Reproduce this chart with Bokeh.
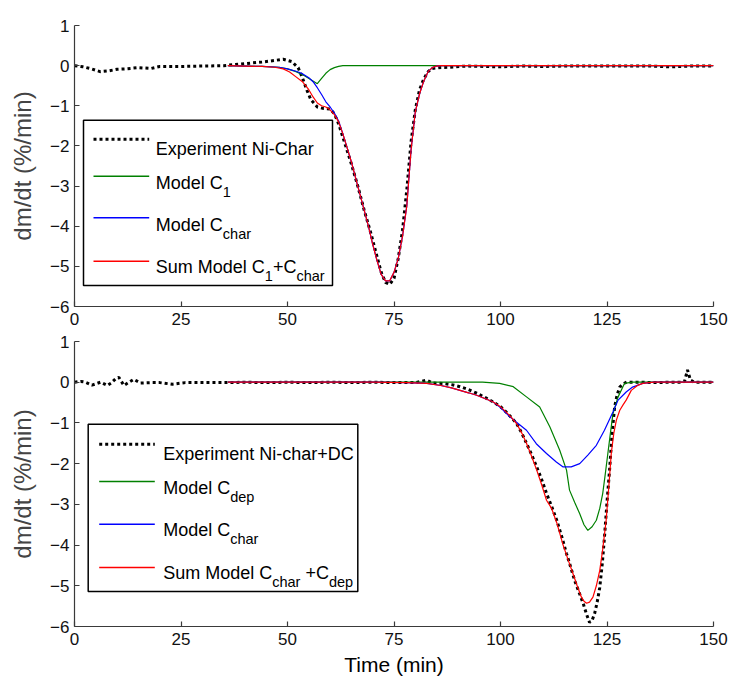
from bokeh.plotting import figure
from bokeh.models import Range1d, FixedTicker, Label, BoxAnnotation
from bokeh.layouts import column
from bokeh.embed import file_html
from bokeh.resources import INLINE

# ---------------- data ----------------
# Top panel: Ni-Char
t_exp_top = [0, 2, 4, 6, 8, 10, 12, 15, 18, 20, 25, 30, 35, 40, 44, 47, 49, 51, 52.5, 53.5,
             54.5, 55.5, 57, 58.5, 60, 61, 62, 63.5, 65, 66.5, 68, 69.5, 71, 72, 73, 74, 75, 76, 77, 78,
             79, 80, 81, 82, 83, 84, 85.5, 88, 92, 96, 100, 105, 110, 115, 120, 125, 130, 135, 140, 145, 150]
v_exp_top = [0.0, -0.03, -0.08, -0.15, -0.13, -0.09, -0.08, -0.05, -0.07, -0.02, -0.02, -0.01, 0.0, 0.05, 0.09, 0.13, 0.16, 0.1, -0.05, -0.3,
             -0.6, -0.85, -1.03, -1.07, -1.08, -1.2, -1.45, -1.95, -2.45, -3.0, -3.6, -4.15, -4.75, -5.15, -5.4, -5.45, -5.3, -4.8, -4.1, -3.1,
             -1.9, -1.1, -0.6, -0.33, -0.15, -0.07, -0.05, -0.04, -0.01, -0.02, -0.03, -0.01, -0.02, -0.01, -0.01, -0.01, -0.01, -0.01, -0.03, -0.01, -0.01]

t_c1_top = [36, 40, 44, 48, 50, 52, 54, 55.5, 57, 58, 59, 60, 61, 62, 63, 70, 80, 90, 100, 110, 120, 130, 140, 150]
v_c1_top = [0, -0.01, -0.02, -0.04, -0.08, -0.15, -0.25, -0.35, -0.45, -0.32, -0.19, -0.1, -0.05, -0.02, 0, 0, 0, 0, 0, 0, 0, 0, 0, 0]

t_char_top = [36, 40, 44, 48, 50, 52, 53.5, 55, 56, 57, 58, 59, 60, 61, 62, 63, 64, 65, 66, 67,
              68, 69, 70, 71, 72, 73, 74, 75, 76, 77, 78, 79, 80, 81, 82, 83, 84, 85, 86, 90,
              100, 110, 120, 130, 140, 150]
v_char_top = [0, -0.01, -0.02, -0.04, -0.08, -0.14, -0.2, -0.3, -0.4, -0.55, -0.72, -0.9, -1.03, -1.18, -1.38, -1.7, -2.05, -2.4, -2.8, -3.2,
              -3.6, -4.0, -4.45, -4.85, -5.2, -5.36, -5.36, -5.15, -4.8, -4.25, -3.5, -2.1, -1.15, -0.7, -0.38, -0.15, -0.05, -0.01, 0, 0,
              0, 0, 0, 0, 0, 0]

t_sum_top = [36, 40, 44, 47, 49, 50.5, 52, 53.5, 55, 56, 57, 58, 59, 60, 61, 62, 63, 64, 65, 66,
             67, 68, 69, 70, 71, 72, 73, 74, 75, 76, 77, 78, 79, 80, 81, 82, 83, 84, 85, 86,
             90, 100, 110, 120, 130, 140, 150]
v_sum_top = [0, -0.01, -0.02, -0.04, -0.08, -0.16, -0.28, -0.4, -0.6, -0.78, -0.93, -1.0, -1.03, -1.1, -1.22, -1.4, -1.7, -2.05, -2.4, -2.8,
             -3.2, -3.6, -4.0, -4.45, -4.85, -5.2, -5.36, -5.36, -5.15, -4.8, -4.25, -3.5, -2.1, -1.15, -0.7, -0.38, -0.15, -0.05, -0.01, 0,
             0, 0, 0, 0, 0, 0, 0]

# Bottom panel: Ni-char + DC
t_exp_bot = [0, 1.5, 2.6, 4.1, 5, 6.1, 7.7, 8.6, 9.6, 10.4, 11.6, 12.8, 13.9, 15.5, 18, 20, 23, 26, 30, 35,
             40, 45, 50, 55, 60, 65, 70, 75, 80, 82.7, 84, 86.5, 88.5, 90.5, 92.5, 94.4, 96.3, 98.2, 100, 101.4,
             102.6, 103.8, 105, 106.1, 107.3, 108.5, 109.7, 110.8, 112, 113.2, 114.4, 115.5, 116.5, 117.4, 118.4, 119.4, 120.2, 120.9, 121.5, 122.1,
             122.7, 123.3, 123.9, 124.4, 125, 125.6, 126.2, 126.8, 127.4, 128, 128.8, 129.6, 131, 133, 136, 140, 142.5, 143.2, 143.9, 144.6,
             145.5, 147, 150]
v_exp_bot = [0, 0.02, 0.0, -0.07, -0.04, 0.0, -0.08, -0.02, 0.08, 0.12, -0.08, 0.0, 0.07, -0.02, -0.01, -0.01, -0.05, -0.01, -0.01, -0.01,
             0.0, -0.01, 0.0, -0.01, 0.0, -0.01, 0.0, -0.01, -0.01, 0.05, -0.02, -0.03, -0.06, -0.11, -0.18, -0.27, -0.37, -0.48, -0.6, -0.74,
             -0.87, -1.02, -1.25, -1.5, -1.78, -2.08, -2.4, -2.73, -3.05, -3.39, -3.8, -4.21, -4.55, -4.87, -5.15, -5.43, -5.7, -5.9, -5.85, -5.68,
             -5.4, -5.04, -4.45, -3.81, -2.95, -2.16, -1.25, -0.6, -0.3, -0.12, -0.04, 0.0, 0.0, 0.0, -0.01, 0.0, 0.0, 0.02, 0.3, 0.05,
             0.0, 0.0, 0.0]

t_dep_bot = [36, 60, 80, 90, 95.8, 99.8, 103, 106.1, 109.2, 111.6, 113.9, 115.5, 116.2, 117.4, 118.6, 119.6, 120.5, 121.5, 122.5, 123.3,
             124, 124.6, 125.2, 125.8, 126.4, 127.6, 129.1, 131, 135, 140, 150]
v_dep_bot = [0, 0, 0, 0, 0, -0.03, -0.11, -0.36, -0.61, -1.1, -1.67, -2.16, -2.65, -2.95, -3.23, -3.5, -3.64, -3.55, -3.39, -3.1,
             -2.73, -2.25, -1.75, -1.25, -0.77, -0.36, -0.03, 0, 0, 0, 0]

t_char_bot = [36, 50, 60, 70, 78, 82.7, 86, 88.5, 90.5, 92.5, 94.4, 96.3, 98.2, 100, 102.2, 104.2, 106.1, 108.4, 110.8, 113.1,
              114.7, 116.6, 118.6, 120.5, 122.5, 124.4, 126.4, 127.6, 129.5, 131, 133.4, 136, 140, 145, 150]
v_char_bot = [0, 0, 0, 0, -0.01, -0.03, -0.08, -0.14, -0.2, -0.26, -0.32, -0.4, -0.48, -0.62, -0.85, -1.02, -1.18, -1.51, -1.75, -1.96,
              -2.08, -2.08, -2.0, -1.79, -1.55, -1.18, -0.73, -0.44, -0.24, -0.12, -0.03, 0, 0, 0, 0]

t_sum_bot = [36, 50, 60, 70, 78, 82.7, 86, 88.5, 90.5, 92.5, 94.4, 96.3, 98.2, 100, 101.4, 102.6, 103.8, 105, 106.1, 107.3,
             108.5, 109.7, 110.8, 112, 113.2, 114.7, 116, 117, 118, 119, 119.6, 120.2, 120.9, 121.7, 122.5, 123.3, 124, 124.8, 125.4, 126,
             126.6, 127.2, 128, 128.8, 129.5, 130.7, 132.3, 133.4, 136, 140, 145, 150]
v_sum_bot = [0, 0, 0, 0, -0.01, -0.03, -0.08, -0.14, -0.2, -0.26, -0.32, -0.4, -0.48, -0.6, -0.74, -0.87, -1.02, -1.25, -1.5, -1.82,
             -2.16, -2.53, -2.9, -3.1, -3.45, -4.0, -4.4, -4.7, -5.0, -5.28, -5.38, -5.43, -5.4, -5.28, -5.0, -4.62, -4.1, -3.39, -2.6, -1.75,
             -1.25, -0.93, -0.69, -0.55, -0.44, -0.2, -0.07, -0.03, 0, 0, 0, 0]

x_ticks = [0, 25, 50, 75, 100, 125, 150]
y_ticks = [1, 0, -1, -2, -3, -4, -5, -6]

# legend texts: (text, is_subscript)
top_legend = [
    [("Experiment Ni-Char", 0)],
    [("Model C", 0), ("1", 1)],
    [("Model C", 0), ("char", 1)],
    [("Sum Model C", 0), ("1", 1), ("+C", 0), ("char", 1)],
]
bot_legend = [
    [("Experiment Ni-char+DC", 0)],
    [("Model C", 0), ("dep", 1)],
    [("Model C", 0), ("char", 1)],
    [("Sum Model C", 0), ("char", 1), (" +C", 0), ("dep", 1)],
]

# ---------------- styling / layout ----------------
GREEN = "#008000"
BLUE = "#0000ff"
RED = "#ff0000"
FONT = "Liberation Sans"
FM = 18.0   # legend main font px
FS = 14.5   # legend subscript font px

# Arial / Liberation Sans advance widths (per em)
AW = {' ': .278, '+': .584, '-': .333, 'C': .722, 'D': .722, 'E': .667, 'M': .833, 'N': .722, 'S': .667,
      'a': .556, 'c': .5, 'd': .556, 'e': .556, 'h': .556, 'i': .222, 'l': .222, 'm': .833, 'n': .556,
      'o': .556, 'p': .556, 'r': .333, 't': .278, 'u': .556, 'x': .5, '1': .556}


def text_width(s, size):
    return sum(AW.get(c, .556) for c in s) * size


FRAME_L, FRAME_R = 74, 713


def make_fig(height, top_border, bottom_border):
    p = figure(width=730, height=height, output_backend="svg", toolbar_location=None,
               x_range=Range1d(0, 150), y_range=Range1d(-6, 1),
               min_border_left=FRAME_L, min_border_right=730 - FRAME_R,
               min_border_top=top_border, min_border_bottom=bottom_border)
    p.outline_line_color = None
    p.xgrid.grid_line_color = None
    p.ygrid.grid_line_color = None
    p.background_fill_color = "white"
    p.border_fill_color = "white"
    for ax in (p.xaxis[0], p.yaxis[0]):
        ax.axis_line_color = "#3a3a3a"
        ax.axis_line_width = 1.2
        ax.major_tick_line_color = "#3a3a3a"
        ax.major_tick_line_width = 1.2
        ax.major_tick_in = 5
        ax.major_tick_out = 0
        ax.minor_tick_line_color = None
        ax.major_label_text_font = FONT
        ax.major_label_text_font_size = "17px"
        ax.major_label_text_color = "#111111"
    p.xaxis[0].ticker = FixedTicker(ticks=x_ticks)
    p.yaxis[0].ticker = FixedTicker(ticks=y_ticks)
    p.xaxis[0].major_label_standoff = 6
    p.yaxis[0].major_label_standoff = 5
    p.yaxis[0].axis_label = "dm/dt (%/min)"
    p.yaxis[0].axis_label_text_font = FONT
    p.yaxis[0].axis_label_text_font_size = "24px"
    p.yaxis[0].axis_label_text_font_style = "normal"
    p.yaxis[0].axis_label_standoff = 11
    return p


def add_legend(p, to_x, to_y, box, sw_x, text_x, sw_rows, base_rows, labels):
    p.add_layout(BoxAnnotation(left=to_x(box[0]), right=to_x(box[2]), top=to_y(box[1]), bottom=to_y(box[3]),
                               fill_color="white", fill_alpha=1.0, line_color="black", line_alpha=1.0,
                               line_width=1.5, level="underlay"))
    styles = [dict(color="black", line_width=3, line_dash="3 3"),
              dict(color=GREEN, line_width=1.4),
              dict(color=BLUE, line_width=1.4),
              dict(color=RED, line_width=1.4)]
    for i, segs in enumerate(labels):
        p.line([to_x(sw_x[0]), to_x(sw_x[1])], [to_y(sw_rows[i]), to_y(sw_rows[i])], **styles[i])
        cx = text_x
        for txt, sub in segs:
            size = FS if sub else FM
            stripped = txt.lstrip(" ")
            cx += text_width(txt[:len(txt) - len(stripped)], size)
            by = base_rows[i] + (9 if sub else 0)
            p.add_layout(Label(x=to_x(cx), y=to_y(by), text=stripped, text_font=FONT,
                               text_font_size=f"{size}px", text_color="black",
                               text_align="left", text_baseline="alphabetic"))
            cx += text_width(stripped, size)


def tx(px):
    return (px - FRAME_L) / (FRAME_R - FRAME_L) * 150


# ---------- top panel ----------
top = make_fig(334, 25, 28)


def ty_top(py):
    return 1 - (py - 25) / 281 * 7


top.line(t_exp_top, v_exp_top, color="black", line_width=3, line_dash="3 3")
top.line(t_c1_top, v_c1_top, color=GREEN, line_width=1.2)
top.line(t_char_top, v_char_top, color=BLUE, line_width=1.2)
top.line(t_sum_top, v_sum_top, color=RED, line_width=1.2)
add_legend(top, tx, ty_top, (83, 119.7, 332, 285), (93, 148.7), 155.3,
           [138.7, 175.7, 217.3, 260.7], [148, 182.3, 224, 266.3], top_legend)

# ---------- bottom panel ----------
bot = make_fig(350, 7, 58)


def ty_bot(py):
    return 1 - (py - 341) / 285 * 7


bot.line(t_exp_bot, v_exp_bot, color="black", line_width=3, line_dash="3 3")
bot.line(t_dep_bot, v_dep_bot, color=GREEN, line_width=1.2)
bot.line(t_char_bot, v_char_bot, color=BLUE, line_width=1.2)
bot.line(t_sum_bot, v_sum_bot, color=RED, line_width=1.2)
add_legend(bot, tx, ty_bot, (87.7, 423.7, 357.3, 591), (98.7, 154.3), 162.7,
           [443.7, 481, 523.7, 567], [453, 487, 529.3, 572.7], bot_legend)

bot.xaxis[0].axis_label = "Time (min)"
bot.xaxis[0].axis_label_text_font = FONT
bot.xaxis[0].axis_label_text_font_size = "21px"
bot.xaxis[0].axis_label_text_font_style = "normal"
bot.xaxis[0].axis_label_text_color = "black"
bot.xaxis[0].axis_label_standoff = 5

layout = column(top, bot)
open("out.html", "w").write(file_html(layout, INLINE))
